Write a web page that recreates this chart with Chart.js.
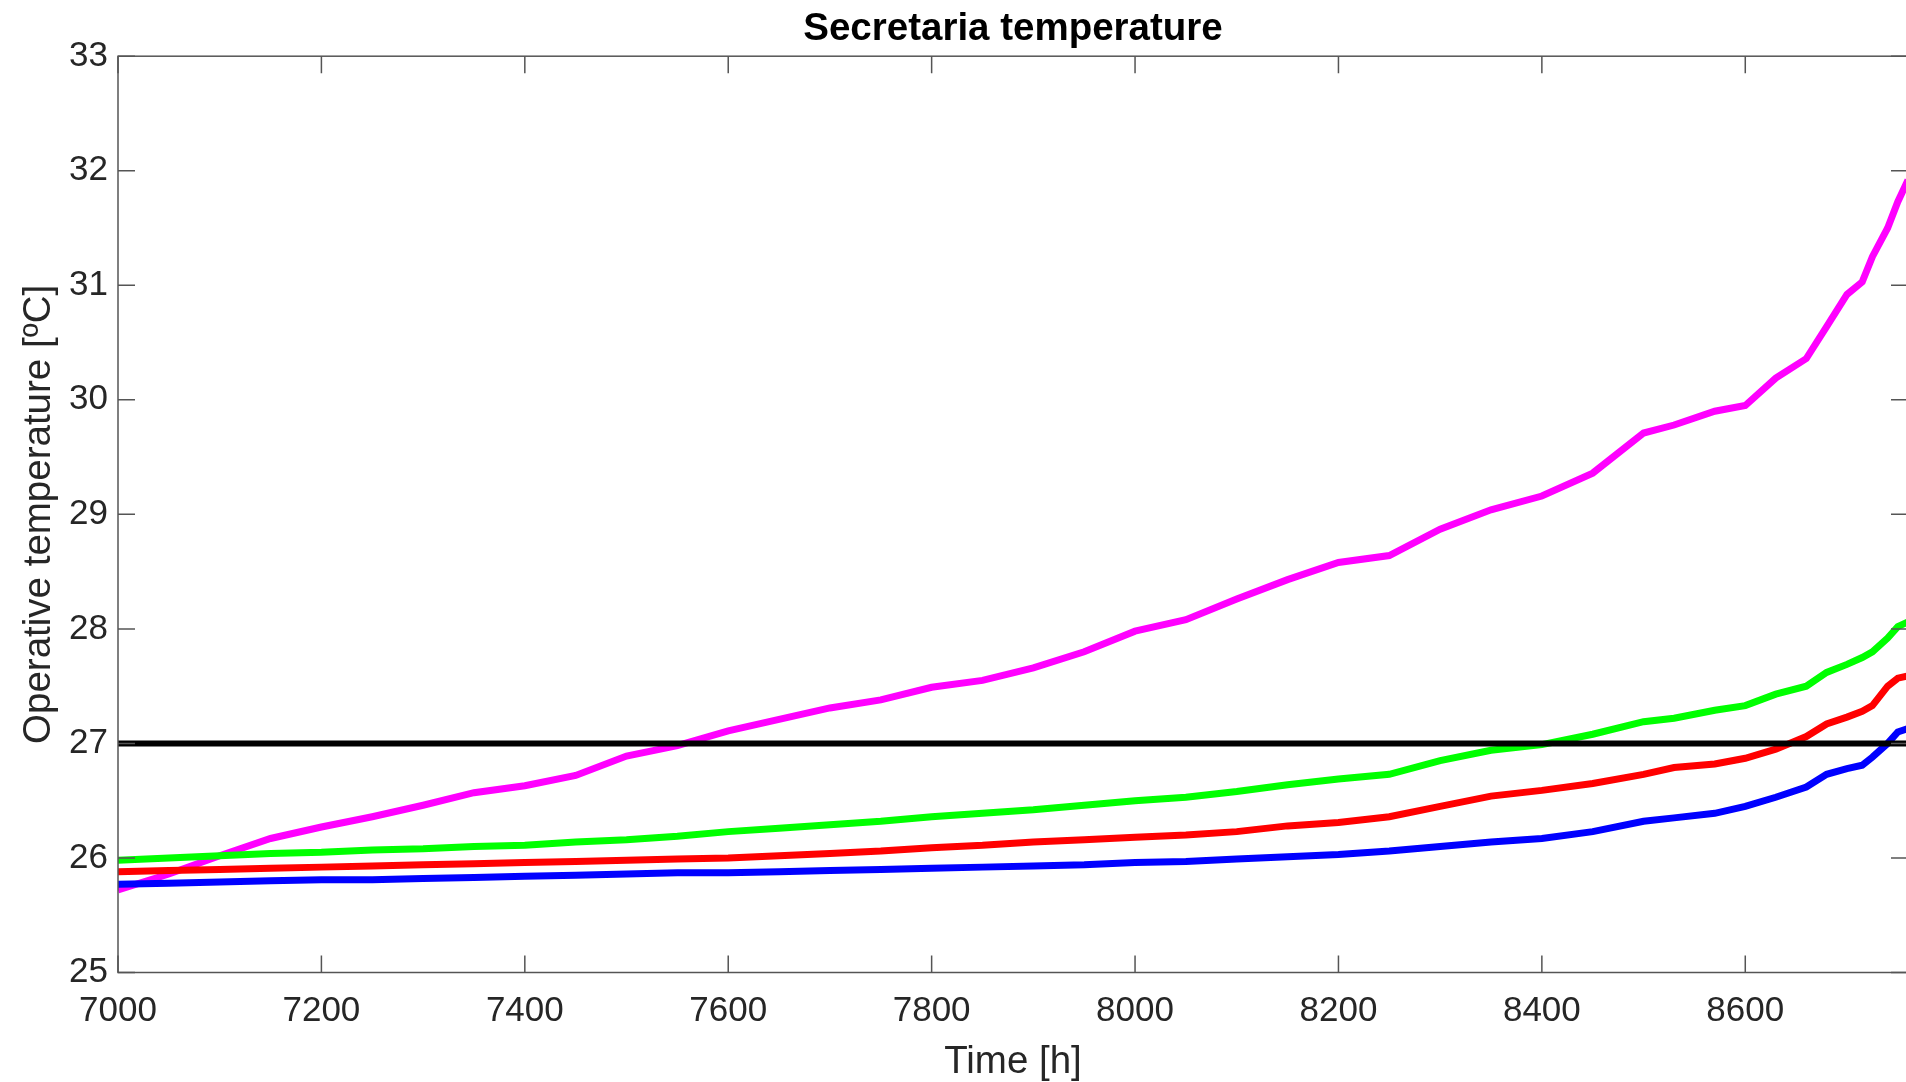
<!DOCTYPE html>
<html lang="en">
<head>
<meta charset="UTF-8">
<title>Secretaria temperature</title>
<script src="https://cdn.jsdelivr.net/npm/chart.js@4.4.1/dist/chart.umd.min.js"></script>
<style>
    html, body { margin: 0; padding: 0; background: #fff; overflow: hidden; }
    #wrap { width: 1906px; height: 1082px; overflow: hidden; position: relative; }
    #chart { position: absolute; left: 0; top: 0; }
</style>
</head>
<body>
<div id="wrap"><canvas id="chart" width="1912" height="1082"></canvas></div>
<script>
// time axis [h]
const hours = [7000, 7050, 7100, 7150, 7200, 7250, 7300, 7350, 7400, 7450,
               7500, 7550, 7600, 7650, 7700, 7750, 7800, 7850, 7900, 7950,
               8000, 8050, 8100, 8150, 8200, 8250, 8300, 8350, 8400, 8450,
               8500, 8530, 8570, 8600, 8630, 8660, 8680, 8700, 8715, 8725,
               8740, 8750, 8760];

// operative temperature [ºC] per case
const magenta = [25.72, 25.86, 26.02, 26.17, 26.27, 26.36, 26.46, 26.57, 26.63, 26.72,
                 26.89, 26.98, 27.11, 27.21, 27.31, 27.38, 27.49, 27.55, 27.66, 27.80,
                 27.98, 28.08, 28.26, 28.43, 28.58, 28.64, 28.87, 29.04, 29.16, 29.36,
                 29.71, 29.78, 29.90, 29.95, 30.19, 30.36, 30.64, 30.92, 31.03, 31.25,
                 31.50, 31.73, 31.92];
const green = [25.98, 26.00, 26.02, 26.04, 26.05, 26.07, 26.08, 26.10, 26.11, 26.14,
               26.16, 26.19, 26.23, 26.26, 26.29, 26.32, 26.36, 26.39, 26.42, 26.46,
               26.50, 26.53, 26.58, 26.64, 26.69, 26.73, 26.85, 26.94, 26.99, 27.08,
               27.19, 27.22, 27.29, 27.33, 27.43, 27.50, 27.62, 27.69, 27.75, 27.80,
               27.92, 28.02, 28.06];
const red = [25.88, 25.89, 25.90, 25.91, 25.92, 25.93, 25.94, 25.95, 25.96, 25.97,
             25.98, 25.99, 26.00, 26.02, 26.04, 26.06, 26.09, 26.11, 26.14, 26.16,
             26.18, 26.20, 26.23, 26.28, 26.31, 26.36, 26.45, 26.54, 26.59, 26.65,
             26.73, 26.79, 26.82, 26.87, 26.95, 27.06, 27.17, 27.23, 27.28, 27.33,
             27.50, 27.57, 27.59];
const blue = [25.77, 25.78, 25.79, 25.80, 25.81, 25.81, 25.82, 25.83, 25.84, 25.85,
              25.86, 25.87, 25.87, 25.88, 25.89, 25.90, 25.91, 25.92, 25.93, 25.94,
              25.96, 25.97, 25.99, 26.01, 26.03, 26.06, 26.10, 26.14, 26.17, 26.23,
              26.32, 26.35, 26.39, 26.45, 26.53, 26.62, 26.73, 26.78, 26.81, 26.88,
              27.00, 27.10, 27.13];

const limit = 27;
const xMin = 7000, xMax = 8760;
const yMin = 25, yMax = 33;
const xTicks = [7000, 7200, 7400, 7600, 7800, 8000, 8200, 8400, 8600];
const yTicks = [25, 26, 27, 28, 29, 30, 31, 32, 33];

const FONT = '"Liberation Sans", Arial, Helvetica, sans-serif';
const TEXT = '#262626';

function pts(vals) {
    return hours.map((h, i) => ({ x: h, y: vals[i] }));
}

// matlab style box with inward ticks on all four sides
const boxTicks = {
    id: 'boxTicks',
    afterDatasetsDraw(chart) {
        const { ctx, chartArea: a, scales: { x, y } } = chart;
        const len = 17;
        ctx.save();
        ctx.strokeStyle = '#555555';
        ctx.lineWidth = 1.5;
        ctx.strokeRect(a.left, a.top, a.right - a.left, a.bottom - a.top);
        ctx.beginPath();
        x.ticks.forEach(t => {
            const px = x.getPixelForValue(t.value);
            ctx.moveTo(px, a.bottom); ctx.lineTo(px, a.bottom - len);
            ctx.moveTo(px, a.top); ctx.lineTo(px, a.top + len);
        });
        y.ticks.forEach(t => {
            const py = y.getPixelForValue(t.value);
            ctx.moveTo(a.left, py); ctx.lineTo(a.left + len, py);
            ctx.moveTo(a.right, py); ctx.lineTo(a.right - len, py);
        });
        ctx.stroke();
        ctx.restore();
    }
};

const line = (data, color, width) => ({
    data: data,
    borderColor: color,
    backgroundColor: color,
    borderWidth: width,
    pointRadius: 0,
    tension: 0,
    fill: false
});

new Chart(document.getElementById('chart'), {
    type: 'line',
    data: {
        datasets: [
            line([{ x: xMin, y: limit }, { x: xMax, y: limit }], '#000000', 6),
            line(pts(blue), '#0000ff', 7),
            line(pts(red), '#ff0000', 7),
            line(pts(green), '#00ff00', 7),
            line(pts(magenta), '#ff00ff', 7)
        ]
    },
    options: {
        responsive: false,
        animation: false,
        devicePixelRatio: 1,
        layout: { padding: { left: 0, right: 4, top: 0, bottom: 0 } },
        plugins: {
            legend: { display: false },
            tooltip: { enabled: false },
            title: {
                display: true,
                fullSize: false,
                text: 'Secretaria temperature',
                color: '#000000',
                font: { family: FONT, size: 38.5, weight: 'bold' },
                padding: { top: 6.5, bottom: 3.5 }
            }
        },
        scales: {
            x: {
                type: 'linear',
                min: xMin,
                max: xMax,
                afterBuildTicks: s => { s.ticks = xTicks.map(v => ({ value: v })); },
                afterFit: s => { s.height = 109.5; },
                grid: { display: false, drawTicks: false },
                border: { display: false },
                ticks: {
                    color: TEXT,
                    font: { family: FONT, size: 35 },
                    padding: 18,
                    autoSkip: false,
                    maxRotation: 0,
                    callback: v => String(v)
                },
                title: {
                    display: true,
                    text: 'Time [h]',
                    color: TEXT,
                    font: { family: FONT, size: 38.5 },
                    padding: { top: 0, bottom: -3.5 }
                }
            },
            y: {
                type: 'linear',
                min: yMin,
                max: yMax,
                afterBuildTicks: s => { s.ticks = yTicks.map(v => ({ value: v })); },
                afterFit: s => { s.width = 118; },
                grid: { display: false, drawTicks: false },
                border: { display: false },
                ticks: {
                    color: TEXT,
                    font: { family: FONT, size: 35 },
                    padding: 10,
                    autoSkip: false,
                    callback: v => String(v)
                },
                title: {
                    display: true,
                    text: 'Operative temperature [ºC]',
                    color: TEXT,
                    font: { family: FONT, size: 38.5 },
                    padding: { top: 16, bottom: 0 }
                }
            }
        }
    },
    plugins: [boxTicks]
});
</script>
</body>
</html>
